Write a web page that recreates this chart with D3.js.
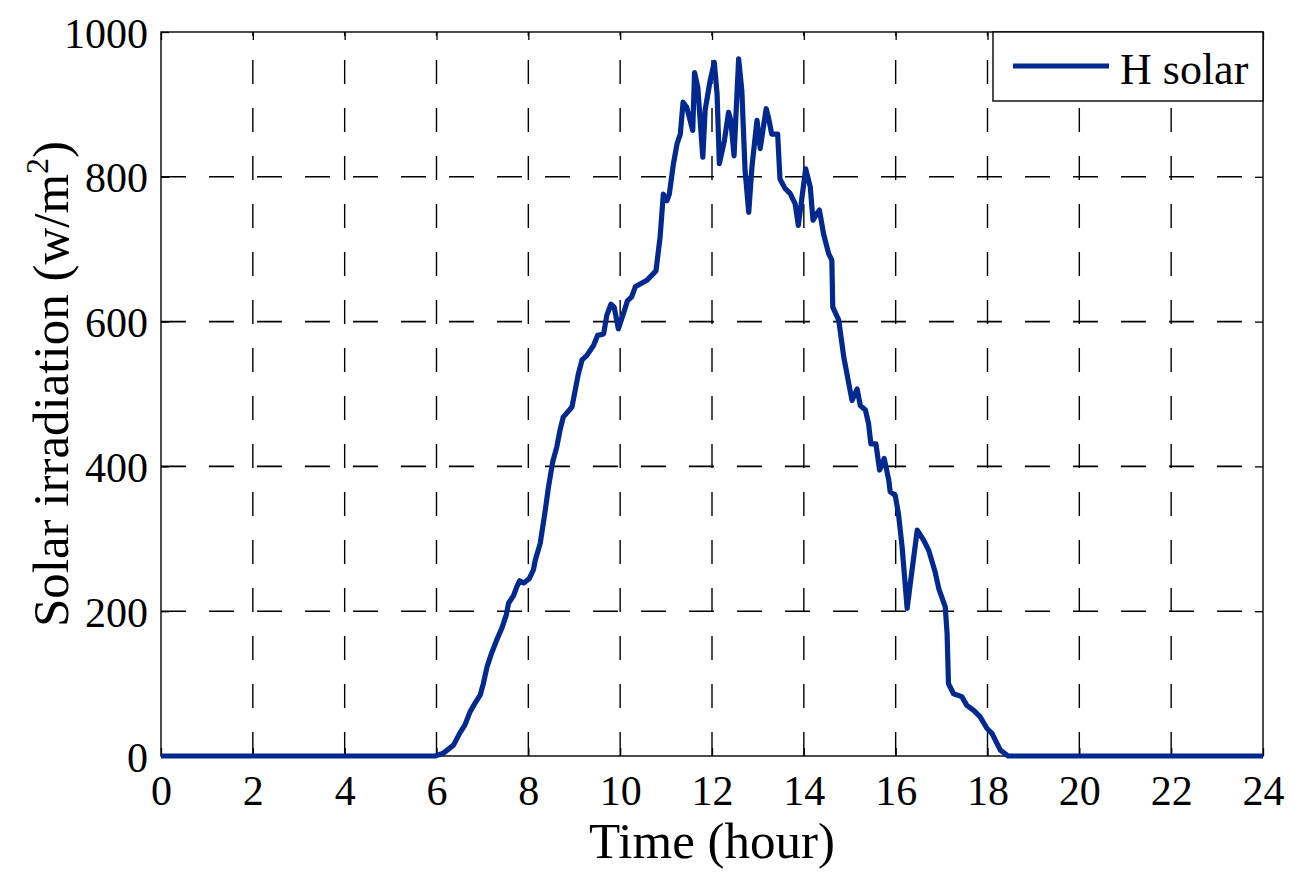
<!DOCTYPE html>
<html>
<head>
<meta charset="utf-8">
<title>Solar irradiation</title>
<script src="https://cdnjs.cloudflare.com/ajax/libs/d3/7.8.5/d3.min.js"></script>
<style>
    body{ margin:0; background:#fff; }
    svg text{ font-family:"Liberation Serif","Times New Roman",serif; fill:#000; }
</style>
</head>
<body>
<div id="chart"></div>
<script>
// data
var hours = [0, 5.97, 6.15, 6.37, 6.51, 6.62, 6.73, 6.84, 6.95, 7.02, 7.10, 7.20, 7.31, 7.42, 7.52, 7.57, 7.68, 7.75, 7.81, 7.90,
    8.02, 8.11, 8.15, 8.26, 8.37, 8.44, 8.53, 8.62, 8.69, 8.76, 8.95, 9.02, 9.09, 9.17, 9.27, 9.42, 9.51, 9.64, 9.71, 9.80,
    9.87, 9.96, 10.07, 10.16, 10.25, 10.33, 10.58, 10.78, 10.87, 10.94, 11.02, 11.07, 11.16, 11.24, 11.31, 11.37, 11.45, 11.58, 11.62, 11.69,
    11.80, 11.85, 11.96, 12.05, 12.11, 12.16, 12.27, 12.36, 12.41, 12.48, 12.58, 12.65, 12.72, 12.80, 12.87, 12.98, 13.05, 13.12, 13.18, 13.23,
    13.30, 13.43, 13.48, 13.59, 13.70, 13.81, 13.88, 13.96, 14.04, 14.14, 14.20, 14.28, 14.34, 14.43, 14.54, 14.61, 14.63, 14.76, 14.87, 14.98,
    15.05, 15.16, 15.23, 15.34, 15.41, 15.46, 15.57, 15.65, 15.75, 15.85, 15.88, 15.99, 16.06, 16.14, 16.25, 16.31, 16.47, 16.61, 16.72, 16.86,
    16.94, 17.08, 17.12, 17.15, 17.26, 17.44, 17.55, 17.70, 17.84, 17.99, 18.10, 18.28, 18.45, 24]
var irradiance = [0, 0, 4, 15, 32, 43, 61, 73, 84, 100, 123, 142, 160, 176, 195, 211, 222, 234, 242, 239,
    245, 257, 270, 294, 340, 372, 406, 427, 450, 468, 482, 505, 528, 547, 553, 567, 581, 583, 609, 624,
    620, 590, 611, 629, 634, 648, 657, 670, 717, 776, 767, 776, 818, 846, 859, 903, 896, 864, 944, 924,
    827, 892, 933, 958, 915, 818, 850, 889, 878, 829, 963, 919, 809, 751, 814, 878, 839, 869, 894, 882,
    859, 859, 797, 784, 777, 763, 733, 772, 811, 786, 740, 749, 754, 721, 694, 685, 620, 602, 551, 514,
    491, 507, 484, 478, 459, 431, 431, 395, 411, 381, 365, 360, 335, 289, 204, 234, 312, 298, 284, 254,
    231, 206, 169, 100, 86, 82, 70, 63, 54, 38, 31, 8, 0, 0]
var xTicks = [0, 2, 4, 6, 8, 10, 12, 14, 16, 18, 20, 22, 24]
var yTicks = [0, 200, 400, 600, 800, 1000]
var seriesName = "H solar"

var W = 1309, H = 873
var margin = {left:161, top:32, right:46, bottom:117}
var iw = W - margin.left - margin.right
var ih = H - margin.top - margin.bottom
var blue = "#00298f"

var svg = d3.select("#chart").append("svg").attr("width", W).attr("height", H)
var g = svg.append("g").attr("transform", "translate(" + margin.left + "," + margin.top + ")")

var x = d3.scaleLinear().domain([0, 24]).range([0, iw])
var y = d3.scaleLinear().domain([0, 1000]).range([ih, 0])

// dashed grid
g.selectAll(".vgrid").data(xTicks.slice(1, -1)).enter().append("line")
    .attr("x1", d => x(d)).attr("x2", d => x(d))
    .attr("y1", ih).attr("y2", 0)
    .attr("stroke", "#000").attr("stroke-width", 1.4)
    .attr("stroke-dasharray", "24,24")
g.selectAll(".hgrid").data(yTicks.slice(1, -1)).enter().append("line")
    .attr("x1", 0).attr("x2", iw)
    .attr("y1", d => y(d)).attr("y2", d => y(d))
    .attr("stroke", "#000").attr("stroke-width", 1.6)
    .attr("stroke-dasharray", "25,23")

// axes, ticks inside
var tickLen = 8
var fmt = d3.format("d")
var xAxis = g.append("g").attr("transform", "translate(0," + ih + ")")
    .call(d3.axisBottom(x).tickValues(xTicks).tickFormat(fmt).tickSizeInner(-tickLen).tickSizeOuter(0).tickPadding(19))
var yAxis = g.append("g")
    .call(d3.axisLeft(y).tickValues(yTicks).tickFormat(fmt).tickSizeInner(-tickLen).tickSizeOuter(0).tickPadding(13))
g.append("g")
    .call(d3.axisTop(x).tickValues(xTicks).tickSizeInner(-tickLen).tickSizeOuter(0).tickFormat(""))
g.append("g").attr("transform", "translate(" + iw + ",0)")
    .call(d3.axisRight(y).tickValues(yTicks).tickSizeInner(-tickLen).tickSizeOuter(0).tickFormat(""))
g.selectAll(".domain").remove()
g.selectAll(".tick line").attr("stroke", "#000").attr("stroke-width", 1.3)
xAxis.selectAll("text").attr("font-size", 42).attr("font-family", "Liberation Serif").attr("dy", "0.71em")
yAxis.selectAll("text").attr("font-size", 42).attr("font-family", "Liberation Serif").attr("dy", "0.36em")

// box
g.append("rect").attr("x", 0).attr("y", 0).attr("width", iw).attr("height", ih)
    .attr("fill", "none").attr("stroke", "#000").attr("stroke-width", 1.4)

// series
var pts = hours.map((h, i) => [h, irradiance[i]])
var line = d3.line().x(d => x(d[0])).y(d => y(d[1]))
g.append("path").datum(pts).attr("d", line)
    .attr("fill", "none").attr("stroke", blue).attr("stroke-width", 5.2)
    .attr("stroke-linejoin", "round")

// axis labels
svg.append("text").attr("x", margin.left + iw / 2).attr("y", 858)
    .attr("text-anchor", "middle").attr("font-size", 51).text("Time (hour)")
var yl = svg.append("text").attr("transform", "translate(68," + (margin.top + ih / 2 - 10) + ") rotate(-90)")
    .attr("text-anchor", "middle").attr("font-size", 51)
yl.append("tspan").text("Solar irradiation (w/m")
yl.append("tspan").attr("font-size", 32).attr("dy", -20).text("2")
yl.append("tspan").attr("dy", 20).text(")")

// legend
var lg = g.append("g").attr("transform", "translate(" + (iw - 270) + ",0)")
lg.append("rect").attr("width", 270).attr("height", 69)
    .attr("fill", "#fff").attr("stroke", "#000").attr("stroke-width", 1.4)
lg.append("line").attr("x1", 20).attr("x2", 116).attr("y1", 34).attr("y2", 34)
    .attr("stroke", blue).attr("stroke-width", 5.2)
lg.append("text").attr("x", 127).attr("y", 52).attr("font-size", 44).text(seriesName)
</script>
</body>
</html>
